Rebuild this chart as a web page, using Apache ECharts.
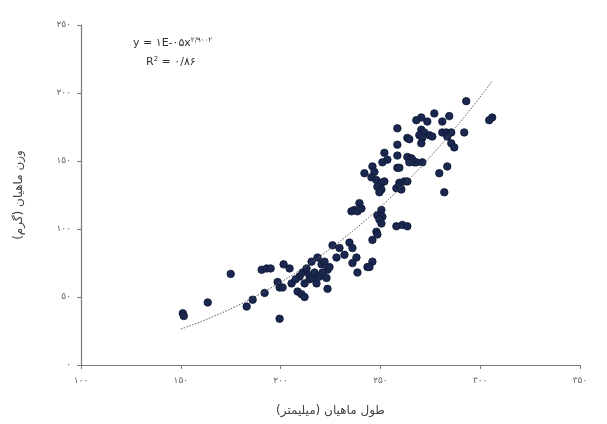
<!DOCTYPE html>
<html>
<head>
<meta charset="utf-8">
<script src="https://cdn.jsdelivr.net/npm/echarts@6/dist/echarts.min.js"></script>
<style>
  html, body { margin: 0; padding: 0; background: #fff; }
  #chart { width: 607px; height: 424px; }
</style>
</head>
<body>
<div id="chart"></div>
<script>
// Fish length (mm) and weight (g) samples
const lengths = [
  151, 151.5, 163.5, 175, 183, 186, 192, 190.5, 193, 195, 201.5, 199.5, 198.5, 199.5, 201,
  205.5, 208.5, 210.5, 212, 223.5, 209.5, 211, 213, 214.5, 214.5, 216, 217, 218, 219.5,
  218.5, 220.5, 222, 223.5, 224.5, 226, 228, 229.5, 232, 234.5, 236, 238, 236, 238.5,
  243.5, 221, 223, 207.5, 212, 204.5, 215.5,
  239.5, 237, 235.5, 238.5, 240.5, 250.5, 248.5, 251, 249.5, 250.5, 248, 248.5, 246,
  258, 261, 263.5, 246, 244.5,
  252, 253.5, 251, 246, 242, 247, 245.5, 248, 250.5, 252, 248.5, 250.5, 249.5, 258.5,
  259.5, 262, 263.5, 258, 260.5, 258.5, 263.5, 265.5, 267, 268, 266, 264.5, 271, 259.5,
  258.5, 258.5, 263.5, 259.5,
  293, 306, 304.5, 277, 270.5, 268, 284.5, 273.5, 281, 270.5, 272, 269.5, 271, 274.5,
  276, 270.5, 281, 283, 285.5, 283.5, 292, 264.5, 285.5, 287, 283.5, 279.5, 282
];
const weights = [
  38, 36, 46, 67, 43, 48, 53, 70, 71, 71, 74, 34, 61, 57, 57,
  60, 54, 52, 50, 56, 65, 68, 71, 66, 63, 64, 68, 60, 65,
  79, 74, 76, 70, 72, 88, 79, 86, 81, 90, 86, 79, 75, 68,
  72, 68, 64, 63, 60, 71, 76,
  119, 114, 113, 113, 115, 114, 110, 109, 107, 104, 98, 96, 92,
  102, 103, 102, 76, 72,
  156, 151, 149, 146, 141, 142, 138, 136, 134, 135, 131, 129, 127, 145,
  134, 135, 135, 130, 129, 154, 153, 152, 149, 149, 151, 149, 149, 145,
  162, 174, 167, 132,
  194, 182, 180, 185, 182, 180, 183, 179, 179, 173, 171, 169, 167, 169,
  168, 163, 171, 171, 171, 168, 171, 166, 163, 160, 146, 141, 127
];

// Power trendline y = a * x^b and its fit quality
const trendCoef = 1.29e-5;
const trendExp = 2.9002;
const trendR2 = 0.86;
const trendRange = [150, 306];

// Axis ticks
const xTicks = [100, 150, 200, 250, 300, 350];
const yTicks = [0, 50, 100, 150, 200, 250];

const faDigits = '۰۱۲۳۴۵۶۷۸۹';
function toFa(v) {
  return String(v).replace(/[0-9]/g, d => faDigits[+d]).replace('.', '/');
}

const points = lengths.map((x, i) => [x, weights[i]]);
const trend = [];
for (let x = trendRange[0]; x <= trendRange[1]; x += 2) {
  trend.push([x, trendCoef * Math.pow(x, trendExp)]);
}

const font = 'DejaVu Sans';
const chart = echarts.init(document.getElementById('chart'), null, { renderer: 'canvas' });
chart.setOption({
  animation: false,
  backgroundColor: '#fff',
  textStyle: { fontFamily: font },
  grid: { left: 81, right: 27, top: 25, bottom: 59 },
  xAxis: {
    type: 'value',
    min: xTicks[0], max: xTicks[xTicks.length - 1], interval: 50,
    name: 'طول ماهیان (میلیمتر)',
    nameLocation: 'middle', nameGap: 40,
    nameTextStyle: { fontFamily: font, fontSize: 12, color: '#444' },
    axisLine: { lineStyle: { color: '#7a7a7a', width: 1.2 } },
    axisTick: { show: true, length: 4, lineStyle: { color: '#7a7a7a' } },
    axisLabel: { formatter: v => toFa(v), fontSize: 9, color: '#666', margin: 11 },
    splitLine: { show: false }
  },
  yAxis: {
    type: 'value',
    min: yTicks[0], max: yTicks[yTicks.length - 1], interval: 50,
    name: 'وزن ماهیان (گرم)',
    nameLocation: 'middle', nameGap: 56, nameRotate: 90,
    nameTextStyle: { fontFamily: font, fontSize: 12, color: '#444' },
    axisLine: { show: true, lineStyle: { color: '#7a7a7a', width: 1.2 } },
    axisTick: { show: true, length: 4, lineStyle: { color: '#7a7a7a' } },
    axisLabel: { formatter: v => toFa(v), fontSize: 9, color: '#666', margin: 10 },
    splitLine: { show: false }
  },
  graphic: [
    {
      type: 'text', left: 133, top: 37,
      style: {
        text: '{b|y = ' + toFa(1) + 'E-' + toFa('05') + 'x}{s|' + toFa(trendExp) + '}',
        rich: {
          b: { fontFamily: font, fontSize: 11, fill: '#333' },
          s: { fontFamily: font, fontSize: 7, fill: '#333', verticalAlign: 'top', padding: [0, 0, 6, 0] }
        }
      }
    },
    {
      type: 'text', left: 146, top: 56,
      style: {
        text: '{b|R}{s|2}{b| = ' + toFa(trendR2.toFixed(2)) + '}',
        rich: {
          b: { fontFamily: font, fontSize: 11, fill: '#333' },
          s: { fontFamily: font, fontSize: 7, fill: '#333', verticalAlign: 'top', padding: [0, 0, 6, 0] }
        }
      }
    }
  ],
  series: [
    {
      type: 'line',
      data: trend,
      showSymbol: false,
      smooth: false,
      lineStyle: { color: '#5a5a5a', width: 1, type: [1.5, 1.5] },
      z: 3
    },
    {
      type: 'scatter',
      data: points,
      symbol: 'circle',
      symbolSize: 7.5,
      itemStyle: { color: '#1a2850', borderColor: '#0e1733', borderWidth: 0.8, opacity: 1 },
      z: 2
    }
  ]
});
</script>
</body>
</html>
